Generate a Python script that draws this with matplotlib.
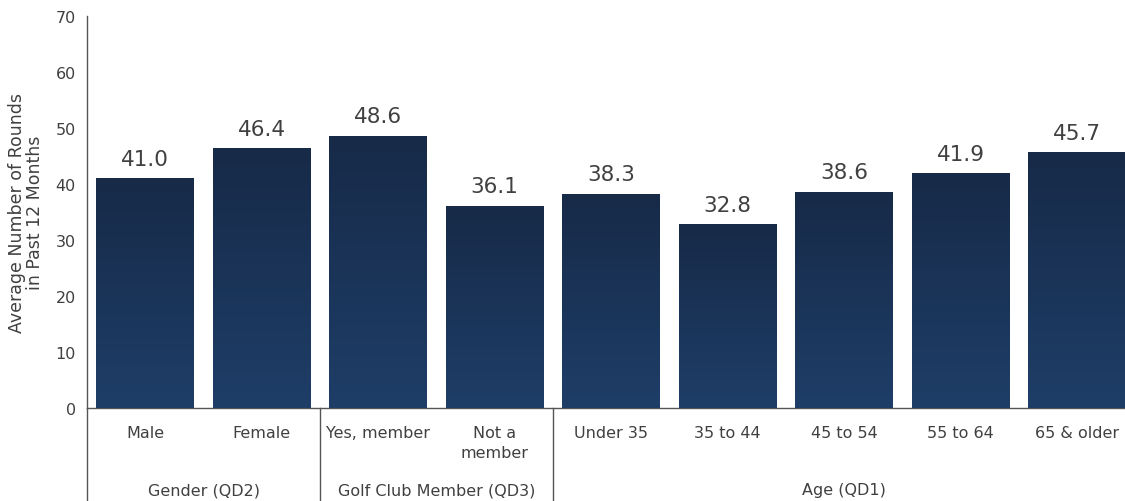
import numpy as np
import matplotlib.pyplot as plt
from matplotlib.colors import LinearSegmentedColormap

categories = ['Male', 'Female', 'Yes, member', 'Not a\nmember', 'Under 35',
              '35 to 44', '45 to 54', '55 to 64', '65 & older']
values = [41.0, 46.4, 48.6, 36.1, 38.3, 32.8, 38.6, 41.9, 45.7]
groups = ['Gender (QD2)', 'Golf Club Member (QD3)', 'Age (QD1)']
group_sizes = [2, 2, 5]

plt.rcParams['font.family'] = ['DejaVu Sans']
text_color = '#404040'

fig = plt.figure(figsize=(11.25, 5.02), dpi=100)
ax = fig.add_axes([87 / 1125, 93 / 502, 1048.5 / 1125, 392 / 502])

x = np.arange(len(values))
bars = ax.bar(x, values, width=0.84, color='#1b3459', zorder=2)

# vertical gradient inside each bar, darker at the top
cmap = LinearSegmentedColormap.from_list('navy', ['#1e3e68', '#172a48'])
grad = np.linspace(0, 1, 256).reshape(-1, 1)
for b in bars:
    x0, w, h = b.get_x(), b.get_width(), b.get_height()
    im = ax.imshow(grad, cmap=cmap, aspect='auto', origin='lower',
                   extent=[x0, x0 + w, 0, h], zorder=3)
    im.set_clip_path(b)
    ax.text(x0 + w / 2, h + 1.7, f'{h:.1f}', ha='center', va='bottom',
            fontsize=15.5, color=text_color)

ax.set_xlim(-0.5, len(values) - 0.5)
ax.set_ylim(0, 70)
ax.set_yticks(range(0, 71, 10))
ax.tick_params(axis='y', length=0, pad=8, labelsize=11.5, labelcolor=text_color)
ax.set_xticks([])
for s in ['top', 'right']:
    ax.spines[s].set_visible(False)
for s in ['left', 'bottom']:
    ax.spines[s].set_color('#555555')
    ax.spines[s].set_linewidth(1)
ax.set_ylabel('Average Number of Rounds\nin Past 12 Months', fontsize=12.5,
              color=text_color, labelpad=8, linespacing=1.05)

# category labels under the axis
trans = ax.get_xaxis_transform()
for i, c in enumerate(categories):
    ax.text(i, -0.043, c, transform=trans, ha='center', va='top',
            fontsize=11.5, color=text_color, linespacing=1.45)

# group labels and separators
start = 0
bottom = -0.25
ax.plot([-0.5, -0.5], [0, bottom], transform=trans, color='#555555',
        lw=1, clip_on=False)
for g, n in zip(groups, group_sizes):
    mid = start + (n - 1) / 2
    ax.text(mid, -0.209, g, transform=trans, ha='center', va='center',
            fontsize=11.5, color=text_color)
    end = start + n - 0.5
    if end < len(values) - 0.5:
        ax.plot([end, end], [0, bottom], transform=trans, color='#555555',
                lw=1, clip_on=False)
    start += n

fig.savefig('out.png', dpi=100)
